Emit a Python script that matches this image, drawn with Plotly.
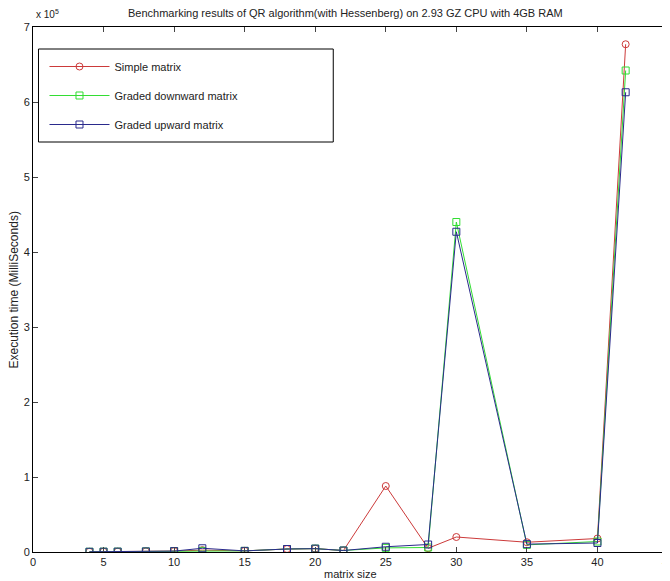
import plotly.graph_objects as go

matrix_size = [4, 5, 6, 8, 10, 12, 15, 18, 20, 22, 25, 28, 30, 35, 40, 42]
simple_ms = [300, 400, 500, 800, 1200, 2500, 1500, 4000, 4500, 2000, 88000, 5000, 20000, 13000, 18000, 677000]
graded_down_ms = [300, 400, 500, 800, 1200, 1500, 1500, 4000, 4500, 2000, 5500, 6000, 440000, 9500, 14000, 642000]
graded_up_ms = [300, 400, 500, 800, 1200, 5000, 1500, 4000, 4500, 2000, 7000, 10000, 427000, 10500, 12000, 613000]

x_ticks = [0, 5, 10, 15, 20, 25, 30, 35, 40, 45]
y_tick_vals = [0, 100000, 200000, 300000, 400000, 500000, 600000, 700000]
y_tick_text = ["0", "1", "2", "3", "4", "5", "6", "7"]

FONT = "Liberation Sans, Arial, sans-serif"
TXT = "#222222"

fig = go.Figure()
series = [
    ("Simple matrix", simple_ms, "#cc3a3a", "circle-open"),
    ("Graded downward matrix", graded_down_ms, "#33dd33", "square-open"),
    ("Graded upward matrix", graded_up_ms, "#2a2a8c", "square-open"),
]
for name, vals, col, sym in series:
    fig.add_trace(go.Scatter(
        x=matrix_size, y=vals, name=name, mode="lines+markers",
        line=dict(color=col, width=1),
        marker=dict(symbol=sym, size=7, color=col, line=dict(width=1, color=col)),
        legendgroup=name,
    ))

# the page body has an 8px margin, so the figure is drawn at (8, 8)
OFF = 8
W, H = 670 - OFF, 581 - OFF
L, R, T, B = 24.5, 2, 19, 29
pw, ph = W - L - R, H - T - B

def px_x(p):
    return (p - OFF - L) / pw

def px_y(p):
    return (H - B - (p - OFF)) / ph

fig.update_layout(
    width=W, height=H,
    margin=dict(l=L, r=R, t=T, b=B, autoexpand=False),
    paper_bgcolor="white", plot_bgcolor="white",
    font=dict(family=FONT, size=11, color=TXT),
    showlegend=True,
    legend=dict(
        x=px_x(44), y=px_y(52), xanchor="left", yanchor="top",
        bgcolor="rgba(0,0,0,0)", borderwidth=0,
        font=dict(family=FONT, size=11, color=TXT),
        tracegroupgap=10, itemwidth=60,
    ),
    xaxis=dict(
        range=[0, 45], tickvals=x_ticks, ticks="inside", ticklen=5,
        showline=True, linecolor="black", linewidth=1, mirror="ticks",
        showgrid=False, zeroline=False, automargin=False,
        ticklabeloverflow="allow",
        tickfont=dict(family=FONT, size=11, color=TXT),
    ),
    yaxis=dict(
        range=[0, 700000], tickvals=y_tick_vals, ticktext=y_tick_text,
        ticks="inside", ticklen=5,
        showline=True, linecolor="black", linewidth=1, mirror="ticks",
        showgrid=False, zeroline=False, automargin=False,
        tickfont=dict(family=FONT, size=11, color=TXT),
    ),
    shapes=[dict(
        type="rect", xref="paper", yref="paper",
        x0=px_x(38), x1=px_x(333), y0=px_y(142), y1=px_y(49),
        line=dict(color="black", width=1), fillcolor="rgba(0,0,0,0)", layer="above",
    )],
    annotations=[
        dict(text="Benchmarking results of QR algorithm(with Hessenberg) on 2.93 GZ CPU with 4GB RAM",
             xref="paper", yref="paper", x=px_x(345), y=px_y(13), xanchor="center", yanchor="middle",
             showarrow=False, font=dict(family=FONT, size=11, color=TXT)),
        dict(text="x 10<sup>5</sup>", xref="paper", yref="paper", x=px_x(34), y=px_y(14),
             xanchor="left", yanchor="middle", showarrow=False,
             font=dict(family=FONT, size=10, color=TXT)),
        dict(text="matrix size", xref="paper", yref="paper", x=px_x(350), y=px_y(574),
             xanchor="center", yanchor="middle", showarrow=False,
             font=dict(family=FONT, size=11, color=TXT)),
        dict(text="Execution time (MilliSeconds)", xref="paper", yref="paper", x=px_x(13), y=px_y(290),
             xanchor="center", yanchor="middle", showarrow=False, textangle=-90,
             font=dict(family=FONT, size=12, color=TXT)),
    ],
)

fig.write_html("out.html")
